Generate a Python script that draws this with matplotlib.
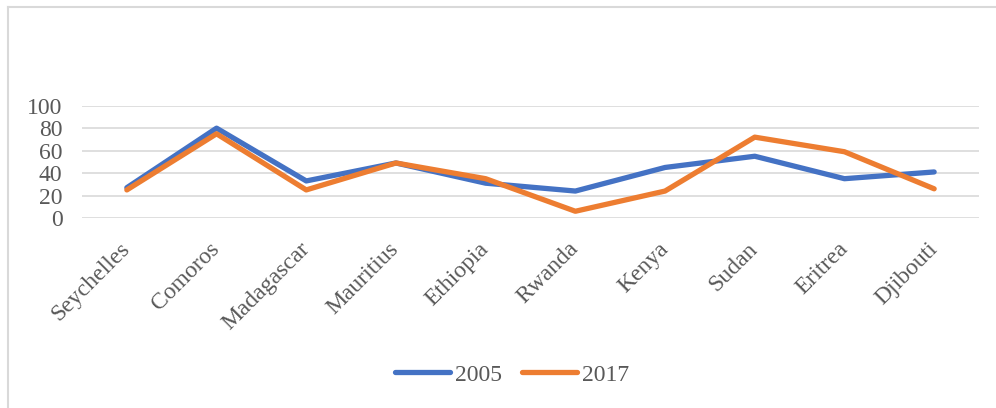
import matplotlib
matplotlib.use("Agg")
import matplotlib.pyplot as plt
from matplotlib.lines import Line2D

countries = ["Seychelles", "Comoros", "Madagascar", "Mauritius", "Ethiopia",
             "Rwanda", "Kenya", "Sudan", "Eritrea", "Djibouti"]
values_2005 = [27, 80, 33, 49, 31, 24, 45, 55, 35, 41]
values_2017 = [25, 75, 25, 49, 35, 6, 24, 72, 59, 26]
yticks = [0, 20, 40, 60, 80, 100]

plt.rcParams['font.family'] = ['Liberation Serif', 'DejaVu Serif']
text_color = '#595959'
fs = 17

fig = plt.figure(figsize=(9.96, 4.08), dpi=100)
ax = fig.add_axes([82/996, 1-218/408, (979-82)/996, (218-105.7)/408])

x = list(range(len(countries)))
ax.plot(x, values_2005, color='#4472C4', lw=3.8, solid_capstyle='round', solid_joinstyle='round', label='2005', zorder=3)
ax.plot(x, values_2017, color='#ED7D31', lw=3.8, solid_capstyle='round', solid_joinstyle='round', label='2017', zorder=4)

ax.set_xlim(-0.5, len(countries) - 0.5)
ax.set_ylim(0, 100)
ax.set_yticks(yticks)
ax.set_yticklabels([str(v) for v in yticks], fontsize=fs, color=text_color)
ax.grid(axis='y', color='#D9D9D9', lw=1.2)
ax.set_axisbelow(True)
for s in ax.spines.values():
    s.set_visible(False)
ax.tick_params(axis='both', length=0)
ax.tick_params(axis='y', pad=14)
ax.tick_params(axis='x', pad=20)
ax.set_xticks(x)
ax.set_xticklabels(countries, rotation=45, ha='right', va='center',
                   rotation_mode='anchor', fontsize=fs, color=text_color)

fig.legend(handles=[Line2D([], [], color='#4472C4', lw=3.8, solid_capstyle='round'),
                    Line2D([], [], color='#ED7D31', lw=3.8, solid_capstyle='round')],
           labels=['2005', '2017'], loc='center', bbox_to_anchor=(512/996, 1-375/408),
           ncol=2, frameon=False, fontsize=fs, labelcolor=text_color,
           handlelength=2.35, handletextpad=0.2, columnspacing=0.85)

# outer chart border (left and top edges visible)
fig.add_artist(Line2D([8/996, 8/996], [0, 1-7/408], transform=fig.transFigure, color='#D9D9D9', lw=1.5))
fig.add_artist(Line2D([8/996, 1], [1-7/408, 1-7/408], transform=fig.transFigure, color='#D9D9D9', lw=1.5))

fig.savefig('out.png', dpi=100, facecolor='white')
